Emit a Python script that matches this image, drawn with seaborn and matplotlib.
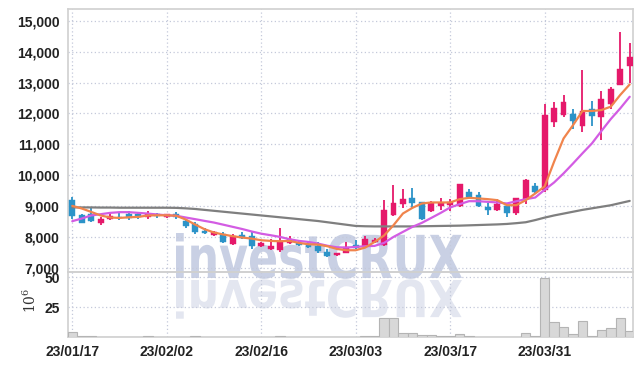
import numpy as np
import pandas as pd
import matplotlib
matplotlib.use("Agg")
import matplotlib.pyplot as plt
import seaborn as sns
from matplotlib.textpath import TextPath
from matplotlib.patches import PathPatch
from matplotlib.font_manager import FontProperties
from matplotlib.transforms import Affine2D, IdentityTransform

# ---------------- data ----------------
dates = ["23/01/17", "23/01/18", "23/01/19", "23/01/20", "23/01/25", "23/01/26", "23/01/27", "23/01/30",
         "23/01/31", "23/02/01", "23/02/02", "23/02/03", "23/02/06", "23/02/07", "23/02/08", "23/02/09",
         "23/02/10", "23/02/13", "23/02/14", "23/02/15", "23/02/16", "23/02/17", "23/02/20", "23/02/21",
         "23/02/22", "23/02/23", "23/02/24", "23/02/27", "23/02/28", "23/03/02", "23/03/03", "23/03/06",
         "23/03/07", "23/03/08", "23/03/09", "23/03/10", "23/03/13", "23/03/14", "23/03/15", "23/03/16",
         "23/03/17", "23/03/20", "23/03/21", "23/03/22", "23/03/23", "23/03/24", "23/03/27", "23/03/28",
         "23/03/29", "23/03/30", "23/03/31", "23/04/03", "23/04/04", "23/04/05", "23/04/06", "23/04/07",
         "23/04/10", "23/04/11", "23/04/12", "23/04/13"]

opens = [9190, 8710, 8760, 8440, 8570, 8660, 8760, 8740, 8650, 8760,
         8650, 8760, 8520, 8420, 8200, 8080, 8090, 7790, 8060, 8040,
         7700, 7620, 7570, 7810, 7810, 7760, 7700, 7520, 7420, 7500,
         7730, 7700, 7840, 7740, 8730, 9080, 9260, 9130, 8840, 8990,
         9050, 9010, 9460, 9360, 8960, 8870, 9000, 8780, 9230, 9650,
         9520, 11730, 11950, 11980, 11600, 12140, 11880, 12300, 12920, 13550]
highs = [9300, 8740, 8950, 8650, 8780, 8820, 8850, 8800, 8850, 8780,
         8760, 8800, 8600, 8480, 8300, 8200, 8150, 8100, 8150, 8200,
         7850, 7950, 8280, 8020, 7920, 7850, 7850, 7620, 7480, 7830,
         7900, 8020, 7960, 9200, 9700, 9540, 9600, 9150, 9180, 9250,
         9230, 9720, 9540, 9450, 9100, 9220, 9050, 9280, 9870, 9750,
         12300, 12360, 12600, 12150, 13410, 12400, 12720, 12850, 14650, 14270]
lows = [8580, 8450, 8500, 8400, 8550, 8560, 8560, 8600, 8600, 8620,
        8630, 8600, 8300, 8100, 8090, 8040, 7800, 7750, 7950, 7600,
        7680, 7570, 7520, 7780, 7700, 7650, 7490, 7350, 7400, 7480,
        7600, 7680, 7800, 7700, 8690, 8950, 8950, 8560, 8800, 8870,
        8840, 8980, 9250, 8960, 8730, 8830, 8650, 8720, 9060, 9380,
        9450, 11560, 11900, 11500, 11400, 11600, 11150, 12150, 12920, 12980]
closes = [8690, 8470, 8520, 8600, 8680, 8640, 8630, 8650, 8760, 8670,
          8740, 8640, 8360, 8150, 8130, 8150, 7840, 8030, 7980, 7700,
          7810, 7700, 7880, 7930, 7730, 7690, 7540, 7390, 7470, 7680,
          7660, 7930, 7900, 8870, 9110, 9230, 9110, 8590, 9090, 9090,
          9140, 9710, 9300, 9000, 8860, 9060, 8780, 9250, 9840, 9460,
          11950, 12170, 12360, 11760, 12080, 11930, 12470, 12790, 13440, 13840]

ma_short = [9010, 8925, 8815, 8700, 8634, 8620, 8640, 8653, 8700, 8705,
            8705, 8690, 8570, 8407, 8255, 8148, 8083, 8028, 7985, 7950,
            7898, 7876, 7865, 7876, 7811, 7768, 7757, 7704, 7617, 7574,
            7574, 7660, 7843, 8050, 8384, 8763, 8945, 9087, 9120, 9120,
            9120, 9227, 9270, 9250, 9227, 9194, 9032, 9032, 9194, 9410,
            9640, 10440, 11190, 11620, 12080, 12080, 12110, 12220, 12600, 12940]
ma_mid = [8514, 8600, 8700, 8740, 8783, 8806, 8806, 8783, 8760, 8730,
          8705, 8690, 8634, 8580, 8524, 8470, 8400, 8330, 8260, 8180,
          8110, 8060, 8005, 7930, 7876, 7843, 7790, 7720, 7670, 7660,
          7682, 7704, 7715, 7811, 8005, 8168, 8330, 8460, 8620, 8783,
          8958, 9065, 9162, 9160, 9140, 9120, 9087, 9160, 9227, 9280,
          9530, 9767, 10060, 10380, 10710, 11030, 11430, 11820, 12165, 12540]
ma_long = [8960, 8960, 8960, 8955, 8955, 8950, 8950, 8950, 8950, 8950,
           8950, 8945, 8930, 8910, 8880, 8850, 8820, 8790, 8760, 8730,
           8700, 8670, 8640, 8610, 8580, 8550, 8520, 8480, 8440, 8400,
           8360, 8350, 8345, 8345, 8345, 8345, 8345, 8350, 8355, 8360,
           8365, 8370, 8380, 8390, 8400, 8410, 8425, 8450, 8480, 8550,
           8630, 8700, 8760, 8820, 8880, 8930, 8980, 9030, 9100, 9170]

volume_m = [4.0, 0.5, 1.2, 0.4, 0.3, 0.3, 0.3, 0.3, 0.6, 0.2,
            0.2, 0.2, 0.2, 0.6, 0.2, 0.2, 0.2, 0.2, 0.2, 0.2,
            0.2, 0.2, 0.8, 0.2, 0.2, 0.2, 0.2, 0.2, 0.2, 0.2,
            0.2, 0.8, 0.5, 15.5, 15.5, 3.7, 3.7, 1.4, 1.4, 0.5,
            0.5, 2.8, 1.0, 0.4, 0.3, 0.3, 0.3, 0.3, 3.4, 1.0,
            49.2, 12.1, 8.4, 2.8, 13.5, 0.9, 6.2, 7.9, 16.0, 5.0]

price_ticks = [7000, 8000, 9000, 10000, 11000, 12000, 13000, 14000, 15000]
volume_ticks = [25, 50]

# ---------------- style ----------------
sns.set_style("white")
plt.rcParams["font.family"] = ["Liberation Sans Narrow", "Liberation Sans", "DejaVu Sans"]
plt.rcParams["mathtext.fontset"] = "dejavuserif"

UP = "#e5196a"
DOWN = "#2c93c8"
GRID = "#c4c9da"
SPINE = "#d0d0d0"

df = pd.DataFrame({"idx": np.arange(len(dates)), "date": dates, "open": opens, "high": highs,
                   "low": lows, "close": closes, "ma_s": ma_short, "ma_m": ma_mid,
                   "ma_l": ma_long, "vol": volume_m})

W, H = 642, 366
fig = plt.figure(figsize=(W / 100, H / 100), dpi=100, facecolor="white")
ax = fig.add_axes([68 / W, (H - 272) / H, (633 - 68) / W, (272 - 9) / H])
axv = fig.add_axes([68 / W, (H - 337) / H, (633 - 68) / W, (337 - 272) / H], sharex=ax)
for a in (ax, axv):
    a.set_facecolor("none")

# watermark
fp = FontProperties(family="DejaVu Sans", weight="bold")
tp = TextPath((0, 0), "investCRUX", size=100, prop=fp)
bb = tp.get_extents()
sx = (462 - 176) / bb.width
sy = 45 / bb.y1
base = H - 278
tr_main = Affine2D().translate(-bb.x0, 0).scale(sx, sy).translate(176, base)
tr_ref = Affine2D().translate(-bb.x0, 0).scale(sx, -sy * 0.86).translate(176, base - 2)
fig.add_artist(PathPatch(tr_main.transform_path(tp), transform=IdentityTransform(),
                         facecolor="#c9d0e4", edgecolor="none", zorder=-1))
fig.add_artist(PathPatch(tr_ref.transform_path(tp), transform=IdentityTransform(),
                         facecolor="#e3e6f0", edgecolor="none", zorder=-1))

# candles
up = df["close"] >= df["open"]
colors = np.where(up, UP, DOWN)
ax.vlines(df["idx"], df["low"], df["high"], colors=colors, linewidth=1.3, zorder=3)
body_bottom = np.minimum(df["open"], df["close"])
body_h = np.maximum(np.abs(df["close"] - df["open"]), 20)
ax.bar(df["idx"], body_h, bottom=body_bottom, width=0.62, color=colors,
       edgecolor=colors, linewidth=0.3, zorder=4)

# moving averages
sns.lineplot(data=df, x="idx", y="ma_l", ax=ax, color="#7f7f7f", linewidth=1.6, zorder=5)
sns.lineplot(data=df, x="idx", y="ma_m", ax=ax, color="#d35ce3", linewidth=1.6, zorder=6)
sns.lineplot(data=df, x="idx", y="ma_s", ax=ax, color="#f0844c", linewidth=1.6, zorder=7)

# volume
sns.barplot(data=df, x="idx", y="vol", ax=axv, native_scale=True, width=1.0,
            color="#d8d8d8", edgecolor="#b4b4b4", linewidth=0.8, saturation=1, errorbar=None, zorder=3)

# axes formatting
ax.set_ylim(6870, 15380)
ax.set_yticks(price_ticks)
ax.set_yticklabels([f"{v:,}" for v in price_ticks])
axv.set_ylim(0, 54.2)
axv.set_yticks(volume_ticks)
axv.set_yticklabels([str(v) for v in volume_ticks])
tick_pos = list(range(0, len(dates), 10))
axv.set_xticks(tick_pos)
axv.set_xticklabels([dates[i] for i in tick_pos])
ax.set_xlim(-0.45, 59.35)

for a in (ax, axv):
    a.set_xlabel("")
    a.set_ylabel("")
    a.grid(True, linestyle=(0, (1, 2)), color=GRID, linewidth=0.9, zorder=0)
    a.set_axisbelow(True)
    a.tick_params(length=0, labelsize=10, labelcolor="#222222", pad=6)
    for s in a.spines.values():
        s.set_visible(True)
        s.set_color(SPINE)
        s.set_linewidth(1.2)
ax.tick_params(labelbottom=False)
for lab in ax.get_yticklabels() + axv.get_yticklabels() + axv.get_xticklabels():
    lab.set_fontweight("bold")

axv.set_ylabel(r"$10^{6}$", fontsize=10, color="#333333")
axv.yaxis.set_label_coords(-0.052, 0.57)

fig.savefig("out.png", dpi=100, facecolor="white")
